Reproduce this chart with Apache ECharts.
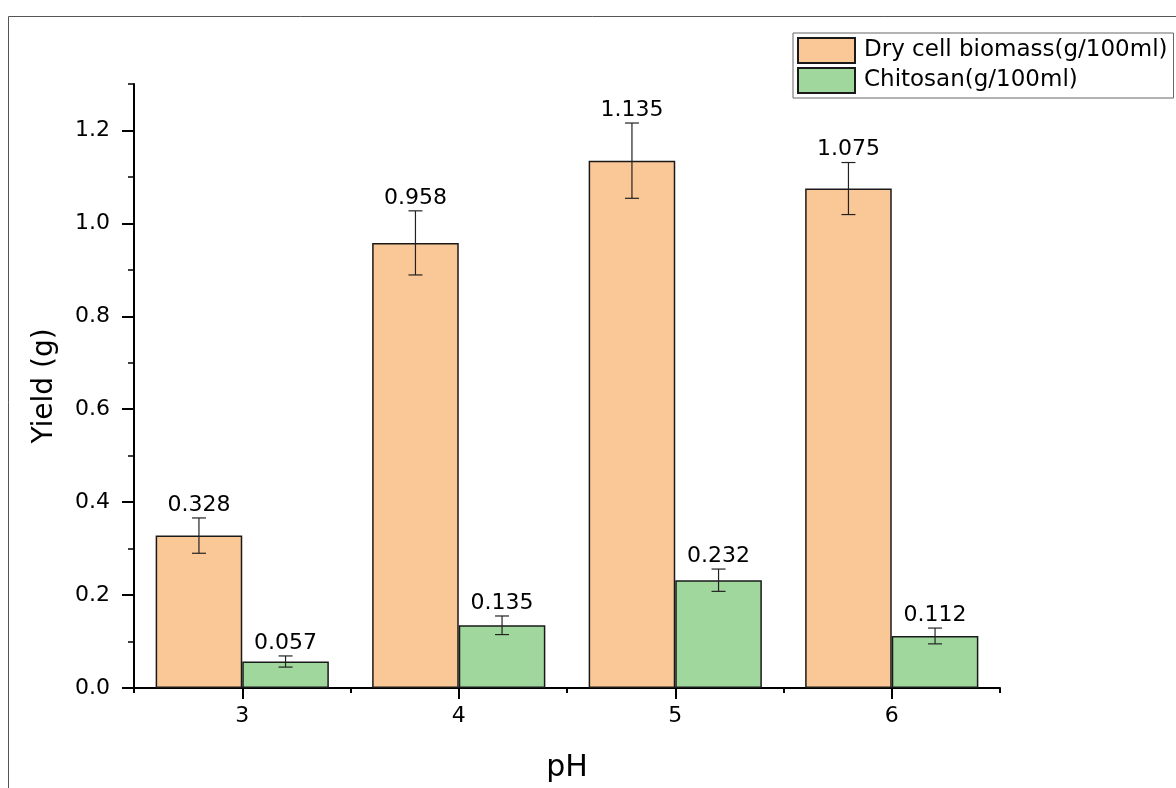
<!DOCTYPE html>
<html>
<head>
<meta charset="utf-8">
<script src="https://cdn.jsdelivr.net/npm/echarts@6/dist/echarts.min.js"></script>
<style>
html,body{margin:0;padding:0;background:#fff;}
#chart{width:1176px;height:788px;}
</style>
</head>
<body>
<div id="chart"></div>
<script>
// ---- data ----
const categories = ['3', '4', '5', '6'];
const seriesNames = ['Dry cell biomass(g/100ml)', 'Chitosan(g/100ml)'];
const biomass = [0.328, 0.958, 1.135, 1.075];
const biomassErr = [0.038, 0.069, 0.081, 0.056];
const chitosan = [0.057, 0.135, 0.232, 0.112];
const chitosanErr = [0.012, 0.020, 0.024, 0.017];
const yTicks = [0, 0.2, 0.4, 0.6, 0.8, 1.0, 1.2];

const FONT = 'DejaVu Sans';
const colors = ['#FAC897', '#9FD79C'];

function errData(vals, errs) {
  return vals.map((v, i) => [i, v, errs[i]]);
}

function makeErrRender(side) {
  return function (params, api) {
    const x = api.value(0), v = api.value(1), e = api.value(2);
    const band = api.size([1, 0])[0];
    const base = api.coord([x, v]);
    const cx = base[0] + side * 0.2 * band;
    const top = api.coord([x, v + e])[1];
    const bot = api.coord([x, v - e])[1];
    const cap = 7;
    const ls = { stroke: '#222', lineWidth: 1.2 };
    return {
      type: 'group',
      children: [
        { type: 'line', shape: { x1: cx, y1: top, x2: cx, y2: bot }, style: ls },
        { type: 'line', shape: { x1: cx - cap, y1: top, x2: cx + cap, y2: top }, style: ls },
        { type: 'line', shape: { x1: cx - cap, y1: bot, x2: cx + cap, y2: bot }, style: ls },
        { type: 'text', x: cx, y: top - 2,
          style: { text: v.toFixed(3), fill: '#000', font: '22px "' + FONT + '"',
                   textAlign: 'center', textVerticalAlign: 'bottom' } }
      ]
    };
  };
}

const chart = echarts.init(document.getElementById('chart'), null, { renderer: 'canvas' });
const option = {
  backgroundColor: '#fff',
  animation: false,
  textStyle: { fontFamily: FONT, color: '#000' },
  graphic: [{
    type: 'rect', silent: true,
    shape: { x: 8.5, y: 16.5, width: 1300, height: 900 },
    style: { fill: 'none', stroke: '#555', lineWidth: 1 }
  }],
  legend: {
    orient: 'vertical',
    left: 793, top: 33,
    padding: [4, 6, 4, 4],
    itemGap: 3,
    itemWidth: 57, itemHeight: 25,
    icon: 'rect',
    borderColor: '#666', borderWidth: 1,
    textStyle: { fontFamily: FONT, fontSize: 23, color: '#000', padding: [0, 0, 0, 4] },
    data: seriesNames
  },
  grid: { left: 134, right: 176, top: 84, bottom: 95 },
  xAxis: [{
    type: 'category',
    data: categories,
    position: 'bottom',
    name: 'pH',
    nameLocation: 'middle',
    nameGap: 65,
    nameTextStyle: { fontSize: 30, fontFamily: FONT, color: '#000' },
    axisLine: { show: true, lineStyle: { color: '#000', width: 2 } },
    axisTick: { show: true, alignWithLabel: true, length: 11, lineStyle: { color: '#000', width: 2 } },
    axisLabel: { fontSize: 22, color: '#000', margin: 17, fontFamily: FONT },
    splitLine: { show: false }
  }, {
    type: 'category',
    data: categories,
    position: 'bottom',
    axisLine: { show: false },
    axisTick: { show: true, length: 5, lineStyle: { color: '#000', width: 2 } },
    axisLabel: { show: false },
    splitLine: { show: false }
  }],
  yAxis: [{
    type: 'value',
    position: 'left',
    min: 0, max: 1.3, interval: 0.1,
    axisLine: { show: true, lineStyle: { color: '#000', width: 2 } },
    axisTick: { show: true, length: 6, lineStyle: { color: '#000', width: 1.5 } },
    axisLabel: { show: false },
    splitLine: { show: false }
  }, {
    type: 'value',
    position: 'left',
    min: 0, max: 1.3, interval: 0.2,
    name: 'Yield (g)',
    nameLocation: 'middle',
    nameGap: 75,
    nameTextStyle: { fontSize: 28, fontFamily: FONT, color: '#000' },
    axisLine: { show: false },
    axisTick: { show: true, length: 12, customValues: yTicks, lineStyle: { color: '#000', width: 2 } },
    axisLabel: { show: true, customValues: yTicks, fontSize: 22, color: '#000', margin: 24, fontFamily: FONT,
                 formatter: v => v.toFixed(1) },
    splitLine: { show: false }
  }],
  series: [{
    name: seriesNames[0],
    type: 'bar',
    xAxisIndex: 0, yAxisIndex: 0,
    data: biomass,
    barGap: '0%',
    barCategoryGap: '20%',
    itemStyle: { color: colors[0], borderColor: '#1a1a1a', borderWidth: 1.5 }
  }, {
    name: seriesNames[1],
    type: 'bar',
    xAxisIndex: 0, yAxisIndex: 0,
    data: chitosan,
    barGap: '0%',
    barCategoryGap: '20%',
    itemStyle: { color: colors[1], borderColor: '#1a1a1a', borderWidth: 1.5 }
  }, {
    type: 'custom',
    xAxisIndex: 0, yAxisIndex: 0,
    renderItem: makeErrRender(-1),
    data: errData(biomass, biomassErr),
    z: 5
  }, {
    type: 'custom',
    xAxisIndex: 0, yAxisIndex: 0,
    renderItem: makeErrRender(1),
    data: errData(chitosan, chitosanErr),
    z: 5
  }]
};
chart.setOption(option);
</script>
</body>
</html>
